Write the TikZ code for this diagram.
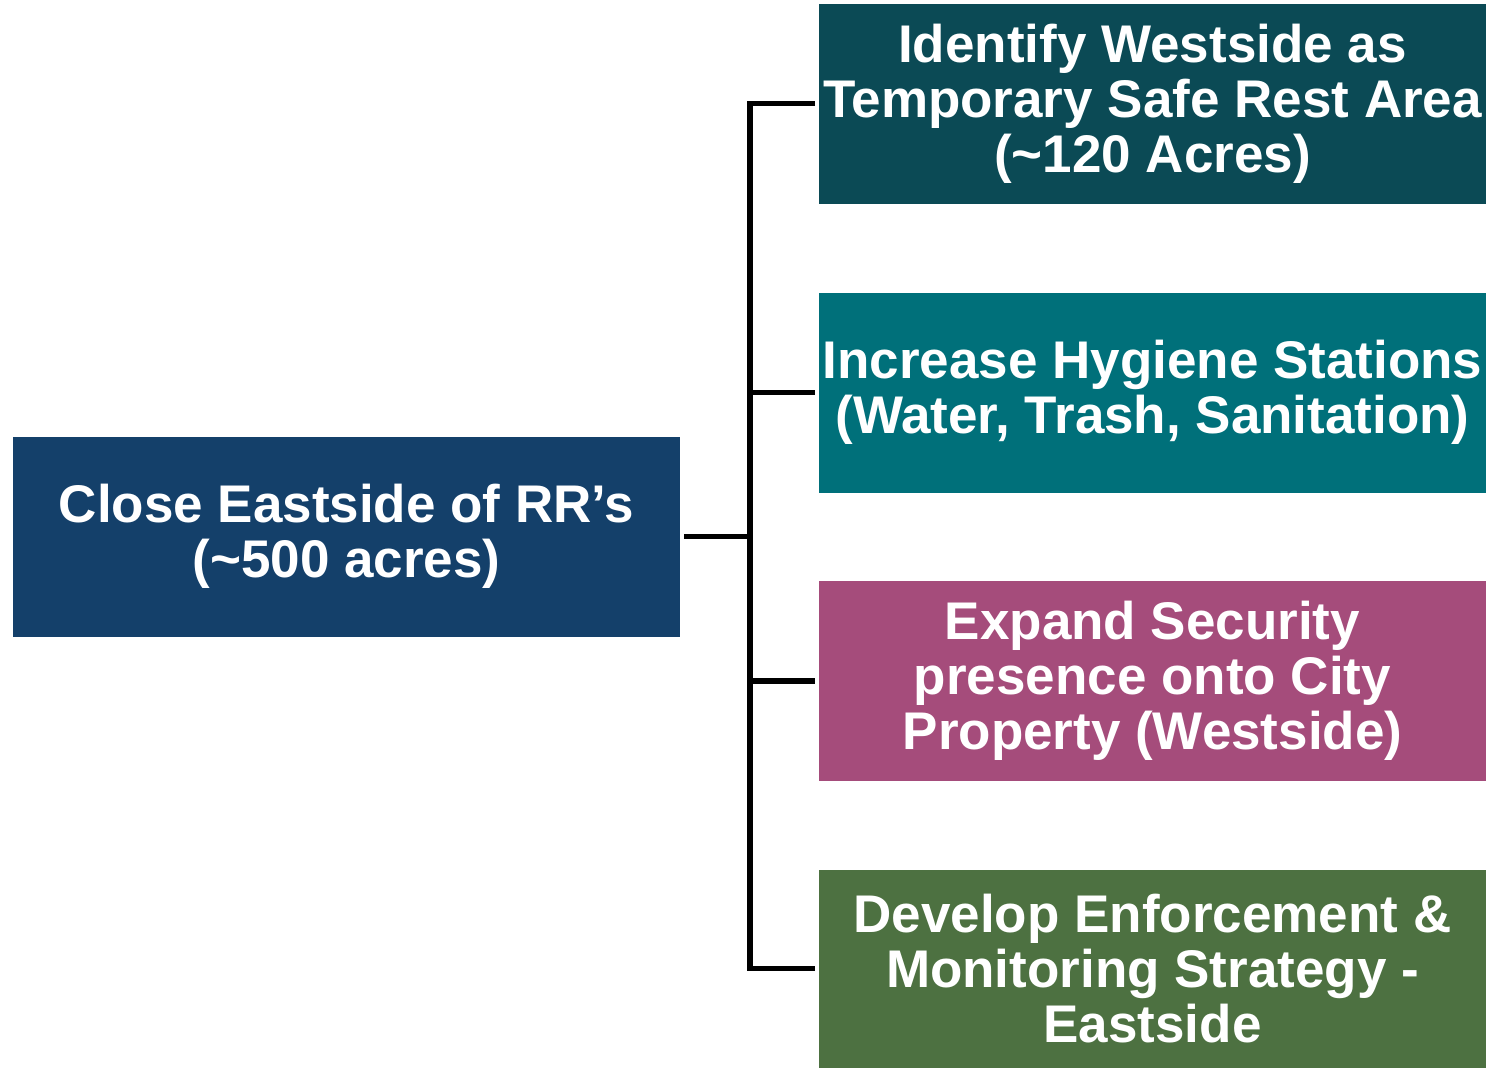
\documentclass[tikz,border=0pt]{standalone}
\usepackage{fontspec}
\setmainfont{Liberation Sans}
\definecolor{cLeft}{HTML}{14406A}
\definecolor{cOne}{HTML}{0B4A55}
\definecolor{cTwo}{HTML}{00707A}
\definecolor{cThree}{HTML}{A54C7B}
\definecolor{cFour}{HTML}{4D7141}
\begin{document}
\begin{tikzpicture}[x=1pt,y=-1pt,
  box/.style={rectangle, minimum width=667pt, minimum height=200pt, inner sep=0pt, outer sep=4pt,
    align=center, text=white, font=\fontsize{53}{55}\selectfont\bfseries},
  conn/.style={draw=black, line width=5.5pt}]
\useasboundingbox (0,0) rectangle (1491,1068);
\node[box, fill=cLeft] (L) at (346.5,536.5) {Close Eastside of RR’s\\(\textasciitilde500 acres)};
\node[box, fill=cOne] (B1) at (1152.5,103.5) {Identify Westside as\\Temporary Safe Rest Area\\(\textasciitilde120 Acres)};
\node[box, fill=cTwo] (B2) at (1152.5,392.5) {Increase Hygiene Stations\\(Water, Trash, Sanitation)};
\node[box, fill=cThree] (B3) at (1152.5,681) {Expand Security\\presence onto City\\Property (Westside)};
\node[box, fill=cFour, minimum height=198pt] (B4) at (1152.5,968.5) {Develop Enforcement \&\\Monitoring Strategy -\\Eastside};
\coordinate (J) at (750,536.5);
\draw[conn] (L.east) -- (J);
\draw[conn] (B1.west) -| (J) |- (B4.west);
\draw[conn] (J) |- (B2.west);
\draw[conn] (J) |- (B3.west);
\end{tikzpicture}
\end{document}
